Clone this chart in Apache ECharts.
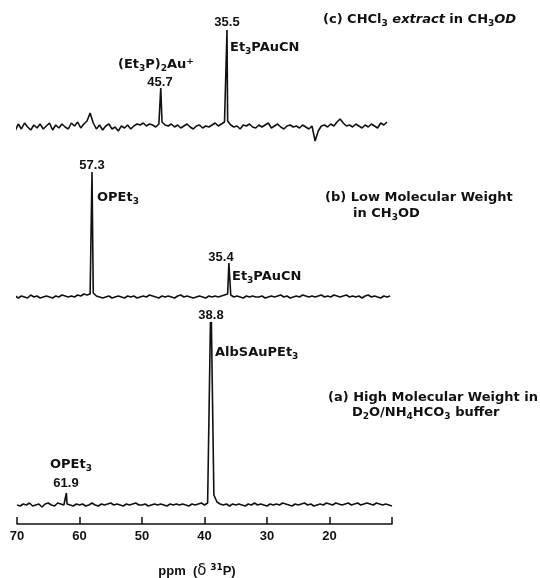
<!DOCTYPE html>
<html>
<head>
<meta charset="utf-8">
<script src="https://cdn.jsdelivr.net/npm/echarts@6/dist/echarts.min.js"></script>
<style>
  * { margin: 0; padding: 0; }
  body { background: #fff; }
</style>
</head>
<body>
<!-- 31P NMR, three stacked traces -->
<div id="nmr" style="width: 540px;height: 578px;"></div>
<script>
// x ticks (ppm)
var ppmTicks = [70, 60, 50, 40, 30, 20, 10];
var sampleStep = 0.5;

// (c) CHCl3 extract -- baseline noise, sampled every 0.5 ppm from 70.8
var startC = 70.8;
var noiseC = [1, -4, 3, -2, 4, 0, -3, 2, -1, 3,
  -2, 1, 4, -3, 2, -1, 3, 0, -2, 4,
  1, 5, -1, 3, 6, 14, 4, -2, 2, -3,
  1, 3, -2, 0, -4, 1, -1, 2, -2, 1,
  3, 2, 4, 1, 3, 2, 0, 3, 5, 2,
  1, 3, 0, 2, -1, 1, 3, 0, -2, 1,
  2, -1, 1, 0, 2, 4, 1, 3, 5, 6,
  2, 0, 1, -2, 2, 1, 3, 0, -1, 2,
  0, 2, 4, -1, 1, 3, 0, -2, 1, 2,
  0, 1, -1, 2, 0, -2, 1, -14, -4, 1,
  2, 0, 3, 1, 5, 8, 4, 1, 2, 0,
  3, 1, -1, 2, 0, 3, 1, -1, 4, 2, 5];
var peaksC = [[47.0, 39], [36.4, 97]];

// (b) low molecular weight
var startB = 70.8;
var noiseB = [0, 1, -1, 1, 0, -1, 2, 0, 1, -1,
  0, 1, 0, -1, 1, 0, 2, 1, 0, 1,
  0, 2, 1, 3, 2, 3, 4, 1, 0, -1,
  0, 1, -1, 0, 1, 0, -1, 1, 0, 1,
  -1, 0, 1, 0, 2, 1, 0, -1, 1, 0,
  1, 0, -1, 1, 2, 0, 1, 0, -1, 0,
  1, 0, -1, 1, 0, 1, 0, 1, 2, 3,
  2, 0, 1, 0, -1, 1, 0, 1, 0, 0,
  1, -1, 0, 1, 0, 1, 2, 0, 1, -1,
  0, 1, 0, 2, 1, 0, 1, 0, 1, 2,
  0, 1, 0, 2, 1, 0, 1, 2, 0, 1,
  0, 1, -1, 1, 2, 0, 1, 0, -1, 1, 0, 1];
var peaksB = [[58.0, 125], [36.1, 34]];

// (a) high molecular weight
var startA = 70.0;
var noiseA = [0, -1, 1, 0, 2, -1, 0, 1, -2, 1,
  2, 0, -1, 2, 1, 0, 1, 0, -1, 1,
  0, 1, -1, 0, 2, 0, -1, 1, 0, 1,
  2, 0, 1, 0, -1, 1, 0, 1, 2, 0,
  0, 1, -1, 0, 1, 0, 1, 0, -1, 1,
  0, 1, 0, 1, 0, -1, 1, 0, 1, 2,
  0, 2, 180, 10, 3, 1, 0, 1, -1, 1,
  0, 1, 0, -1, 1, 0, 2, 0, 1, 0,
  -1, 1, 0, 1, 0, 2, 1, 0, -1, 1,
  0, 1, 2, 0, 1, -1, 0, 1, 0, 2,
  1, 0, 2, 1, 0, 1, 2, 0, 1, 2,
  0, 1, 2, 1, 0, 2, 1, 0, 1, 0, -1];
var peaksA = [[62.1, 12], [39.05, 183], [38.9, 183]];

var NUMFONT = 'Liberation Sans';
var FONT = 'DejaVu Sans';

function buildTrace(start, noise, peaks, offset) {
    var pts = [];
    for (var i = 0; i < noise.length; i++) {
        pts.push([start - i * sampleStep, noise[i]]);
    }
    peaks.forEach(function (p) { pts.push([p[0], p[1]]); });
    pts.sort(function (a, b) { return b[0] - a[0]; });
    return pts.map(function (p) { return [p[0], p[1] + offset]; });
}

function traceSeries(data) {
    return {
        type: 'line',
        data: data,
        showSymbol: false,
        symbol: 'none',
        clip: false,
        lineStyle: { color: '#111', width: 1.6 },
        silent: true
    };
}

var rich = {
    s: { fontSize: 9, lineHeight: 9, verticalAlign: 'bottom', fontFamily: FONT, fontWeight: 'bold', fill: '#111' },
    p: { fontSize: 9, lineHeight: 9, verticalAlign: 'top', fontFamily: FONT, fontWeight: 'bold', fill: '#111' },
    i: { fontSize: 13, fontStyle: 'italic', fontFamily: FONT, fontWeight: 'bold', fill: '#111' },
    g: { fontSize: 15, fontFamily: FONT, fill: '#111' }
};

function label(txt, x, y, align, family) {
    return {
        type: 'text',
        x: x,
        y: y,
        style: {
            text: txt,
            rich: rich,
            align: align || 'left',
            verticalAlign: 'middle',
            fontFamily: family || FONT,
            fontWeight: 'bold',
            fontSize: 13,
            lineHeight: 16,
            fill: '#111'
        }
    };
}

var chart = echarts.init(document.getElementById('nmr'));
chart.setOption({
    animation: false,
    grid: { left: 17, right: 148, top: 0, bottom: 54 },
    xAxis: {
        type: 'value',
        inverse: true,
        min: 10,
        max: 70,
        interval: 10,
        splitLine: { show: false },
        axisLine: { lineStyle: { color: '#111', width: 1.5 } },
        axisTick: { inside: true, length: 7, lineStyle: { color: '#111', width: 1.5 } },
        axisLabel: {
            color: '#111', fontFamily: NUMFONT, fontWeight: 'bold', fontSize: 13, margin: 6,
            formatter: function (v) { return v === 10 ? '' : String(v); }
        }
    },
    yAxis: { type: 'value', min: 0, max: 524, show: false },
    series: [
        traceSeries(buildTrace(startC, noiseC, peaksC, 397)),
        traceSeries(buildTrace(startB, noiseB, peaksB, 227)),
        traceSeries(buildTrace(startA, noiseA, peaksA, 19))
    ],
    graphic: [
        // (c)
        label('(c) CHCl{s|3} {i|extract} in CH{s|3}{i|OD}', 323, 20),
        label('35.5', 227, 22, 'center', NUMFONT),
        label('Et{s|3}PAuCN', 230, 48),
        label('(Et{s|3}P){s|2}Au{p|+}', 118, 65),
        label('45.7', 160, 82, 'center', NUMFONT),
        // (b)
        label('57.3', 92, 165, 'center', NUMFONT),
        label('OPEt{s|3}', 97, 198),
        label('(b) Low Molecular Weight', 325, 198),
        label('in CH{s|3}OD', 353, 214),
        label('35.4', 221, 257, 'center', NUMFONT),
        label('Et{s|3}PAuCN', 232, 277),
        // (a)
        label('38.8', 211, 315, 'center', NUMFONT),
        label('AlbSAuPEt{s|3}', 215, 353),
        label('(a) High Molecular Weight in', 328, 398),
        label('D{s|2}O/NH{s|4}HCO{s|3} buffer', 352, 413),
        label('OPEt{s|3}', 50, 465),
        label('61.9', 66, 483, 'center', NUMFONT),
        // axis title
        label('ppm  ({g|δ} {p|31}P)', 197, 571, 'center', NUMFONT)
    ]
});
</script>
</body>
</html>
